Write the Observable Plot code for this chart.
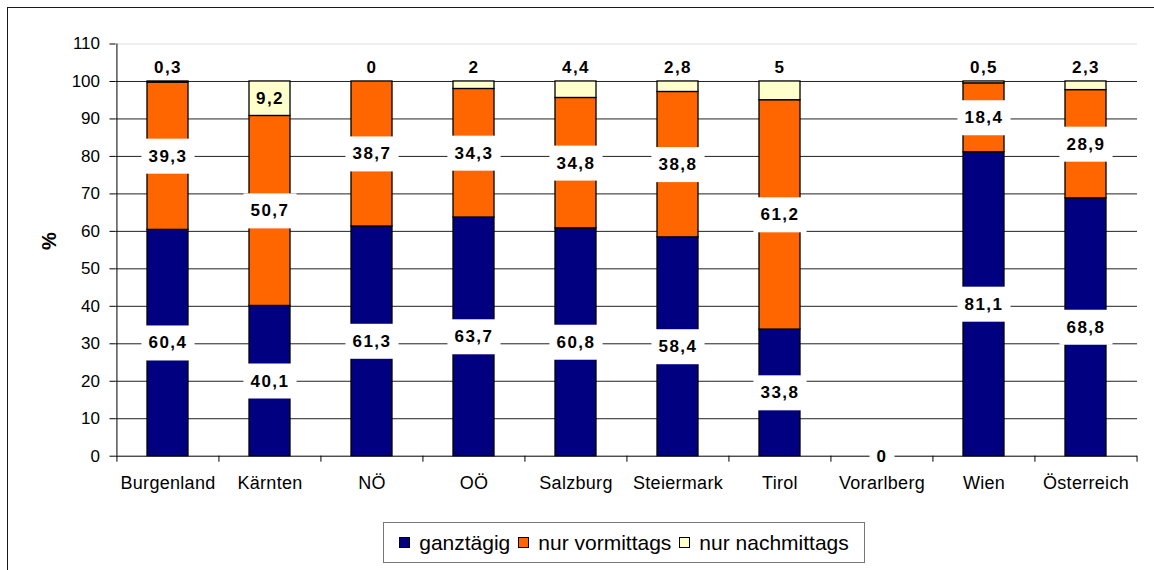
<!DOCTYPE html>
<html>
<head>
<meta charset="utf-8">
<script src="https://cdn.jsdelivr.net/npm/d3@7"></script>
<script src="https://cdn.jsdelivr.net/npm/@observablehq/plot@0.6"></script>
<style>
  html, body { margin: 0; padding: 0; background: #fff; overflow: hidden; }
  body { font-family: "Liberation Sans", Arial, sans-serif; }
  #wrap { position: relative; width: 1154px; height: 570px; overflow: hidden; }
  #frame { position: absolute; left: 7px; top: 7px; width: 1170px; height: 600px;
           border: 1.5px solid #1a1a1a; box-sizing: border-box; pointer-events: none; }
  #chart { position: relative; }
  #legend { position: relative; margin-top: 17px; margin-left: 383px; width: 482px; height: 41px;
            box-sizing: border-box; border: 1px solid #777; display: flex; align-items: center;
            justify-content: center; font-size: 21px; color: #000; white-space: nowrap; }
  #legend .item { display: flex; align-items: center; margin: 0 4px; }
  #legend .sw { width: 11px; height: 11px; box-sizing: border-box; border: 1px solid #000; margin-right: 9px; }
</style>
</head>
<body>
<div id="wrap">
  <div id="chart"></div>
  <div id="legend"></div>
  <div id="frame"></div>
</div>
<script>
const categories = ["Burgenland", "Kärnten", "NÖ", "OÖ", "Salzburg", "Steiermark", "Tirol", "Vorarlberg", "Wien", "Österreich"];
const seriesNames = ["ganztägig", "nur vormittags", "nur nachmittags"];
const ganztaegig  = [60.4, 40.1, 61.3, 63.7, 60.8, 58.4, 33.8, 0, 81.1, 68.8];
const vormittags  = [39.3, 50.7, 38.7, 34.3, 34.8, 38.8, 61.2, null, 18.4, 28.9];
const nachmittags = [0.3, 9.2, 0, 2, 4.4, 2.8, 5, null, 0.5, 2.3];
const seriesColors = ["#000080", "#FF6600", "#FFFFCC"];
const yTicks = [0, 10, 20, 30, 40, 50, 60, 70, 80, 90, 100, 110];

const seriesValues = [ganztaegig, vormittags, nachmittags];
const rows = [];
categories.forEach((c, i) => {
  let base = 0;
  seriesValues.forEach((arr, s) => {
    const v = arr[i];
    if (v == null) return;
    rows.push({cat: c, series: seriesNames[s], s, value: v, y1: base, y2: base + v, mid: base + v / 2,
               label: String(v).replace(".", ",")});
    base += v;
  });
});

const W = 1154, H = 505, mL = 115.5, mR = 17, mT = 43.5, mB = 49.3;
const step = (W - mL - mR) / categories.length;
const font = "'Liberation Sans', Arial, sans-serif";

const boxedLabels = rows.filter(r => r.s < 2);
const innerLabels = rows.filter(r => r.s === 2 && r.value >= 6);
const topLabels = rows.filter(r => r.s === 2 && r.value < 6);

const chart = Plot.plot({
  width: W, height: H,
  marginLeft: mL, marginRight: mR, marginTop: mT, marginBottom: mB,
  style: {fontFamily: font, fontSize: "17px", color: "#000", background: "transparent"},
  x: {domain: categories, paddingInner: 0.6, paddingOuter: 0.3},
  y: {domain: [0, 110]},
  color: {domain: seriesNames, range: seriesColors},
  marks: [
    Plot.ruleY(yTicks.filter(t => t > 0 && t < 110), {stroke: "#222", strokeWidth: 1}),
    Plot.ruleY([110], {stroke: "#ddd", strokeWidth: 1}),
    Plot.barY(rows.filter(r => r.value > 0), {x: "cat", y1: "y1", y2: "y2", fill: "series", stroke: "#000", strokeWidth: 1.3}),
    Plot.ruleY([0], {stroke: "#000", strokeWidth: 1}),
    Plot.ruleX([categories[0]], {x: d => d, dx: -step / 2, y1: 0, y2: 110, stroke: "#000", strokeWidth: 1}),
    Plot.ruleX(categories, {x: d => d, dx: -step / 2, y1: 0, y2: 0, insetBottom: -6, stroke: "#000"}),
    Plot.ruleX([categories[categories.length - 1]], {x: d => d, dx: step / 2, y1: 0, y2: 0, insetBottom: -6, stroke: "#000"}),
    Plot.axisX({tickSize: 0, tickPadding: 20, label: null, fontSize: 18}),
    Plot.axisY({ticks: yTicks, tickSize: 6, tickPadding: 10, label: null, fontSize: 17}),
    Plot.text(["%"], {frameAnchor: "left", dx: -66.5, rotate: -90, text: d => d, fontSize: 20, fontWeight: "bold"}),
    Plot.text(boxedLabels, {x: "cat", y: "mid", text: "label", fontSize: 17, fontWeight: "bold", fill: "#000"}),
    Plot.text(innerLabels, {x: "cat", y: "mid", text: "label", fontSize: 17, fontWeight: "bold", fill: "#000"}),
    Plot.text(topLabels, {x: "cat", y: "y2", dy: -14, text: "label", fontSize: 17, fontWeight: "bold", fill: "#000"})
  ]
});

document.getElementById("chart").append(chart);

// text groups in order: "%", boxed, inner, top
const NS = "http://www.w3.org/2000/svg";
const textGroups = Array.from(chart.querySelectorAll('g[aria-label="text"]'));
textGroups.slice(1).forEach(g => g.querySelectorAll("text").forEach(t => t.style.letterSpacing = "1.5px"));
chart.querySelectorAll('g[aria-label="x-axis tick label"] text').forEach(t => t.style.letterSpacing = "0.3px");

// white boxes behind ganztägig / vormittags labels
const boxedGroup = textGroups[1];
if (boxedGroup) {
  const texts = Array.from(boxedGroup.querySelectorAll("text"));
  const rects = texts.map(t => {
    const b = t.getBBox();
    const rect = document.createElementNS(NS, "rect");
    rect.setAttribute("x", b.x - 7);
    rect.setAttribute("y", b.y - 8);
    rect.setAttribute("width", b.width + 14);
    rect.setAttribute("height", b.height + 16);
    rect.setAttribute("fill", "#fff");
    const tr = t.getAttribute("transform");
    if (tr) rect.setAttribute("transform", tr);
    return rect;
  });
  rects.forEach(r => boxedGroup.insertBefore(r, boxedGroup.firstChild));
}

// legend
const legend = document.getElementById("legend");
seriesNames.forEach((name, i) => {
  const item = document.createElement("div");
  item.className = "item";
  const sw = document.createElement("div");
  sw.className = "sw";
  sw.style.background = seriesColors[i];
  const label = document.createElement("span");
  label.textContent = name;
  item.append(sw, label);
  legend.append(item);
});
</script>
</body>
</html>
